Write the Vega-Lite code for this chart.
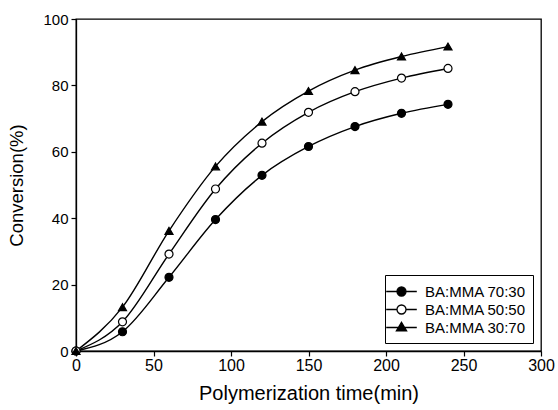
{
  "$schema": "https://vega.github.io/schema/vega-lite/v6.json",
  "width": 465,
  "height": 332,
  "autosize": "none",
  "padding": {"left": 76, "top": 19, "right": 17, "bottom": 59},
  "background": "white",
  "config": {
    "font": "Liberation Sans",
    "view": {"stroke": "black", "strokeWidth": 1.3},
    "axis": {"domainColor": "black", "tickColor": "black", "labelColor": "black", "titleColor": "black", "grid": false, "titleFontWeight": "normal", "tickSize": 5, "labelFlush": false, "domainWidth": 1.3, "tickWidth": 1.2}
  },
  "data": {
    "values": [
      {"t": 0, "c": 0, "s": "BA:MMA 70:30", "label": "BA:MMA 70:30"},
      {"t": 30, "c": 5.8, "s": "BA:MMA 70:30", "label": "BA:MMA 70:30"},
      {"t": 60, "c": 22.2, "s": "BA:MMA 70:30", "label": "BA:MMA 70:30"},
      {"t": 90, "c": 39.6, "s": "BA:MMA 70:30", "label": "BA:MMA 70:30"},
      {"t": 120, "c": 52.9, "s": "BA:MMA 70:30", "label": "BA:MMA 70:30"},
      {"t": 150, "c": 61.6, "s": "BA:MMA 70:30", "label": "BA:MMA 70:30"},
      {"t": 180, "c": 67.6, "s": "BA:MMA 70:30", "label": "BA:MMA 70:30"},
      {"t": 210, "c": 71.6, "s": "BA:MMA 70:30", "label": "BA:MMA 70:30"},
      {"t": 240, "c": 74.3, "s": "BA:MMA 70:30", "label": "BA:MMA 70:30"},
      {"t": 0, "c": 0, "s": "BA:MMA 50:50", "label": "BA:MMA 50:50"},
      {"t": 30, "c": 8.8, "s": "BA:MMA 50:50", "label": "BA:MMA 50:50"},
      {"t": 60, "c": 29.2, "s": "BA:MMA 50:50", "label": "BA:MMA 50:50"},
      {"t": 90, "c": 48.8, "s": "BA:MMA 50:50", "label": "BA:MMA 50:50"},
      {"t": 120, "c": 62.6, "s": "BA:MMA 50:50", "label": "BA:MMA 50:50"},
      {"t": 150, "c": 71.9, "s": "BA:MMA 50:50", "label": "BA:MMA 50:50"},
      {"t": 180, "c": 78.1, "s": "BA:MMA 50:50", "label": "BA:MMA 50:50"},
      {"t": 210, "c": 82.2, "s": "BA:MMA 50:50", "label": "BA:MMA 50:50"},
      {"t": 240, "c": 85.1, "s": "BA:MMA 50:50", "label": "BA:MMA 50:50"},
      {"t": 0, "c": 0, "s": "BA:MMA 30:70", "label": "BA:MMA 30:70"},
      {"t": 30, "c": 13.2, "s": "BA:MMA 30:70", "label": "BA:MMA 30:70"},
      {"t": 60, "c": 36.2, "s": "BA:MMA 30:70", "label": "BA:MMA 30:70"},
      {"t": 90, "c": 55.6, "s": "BA:MMA 30:70", "label": "BA:MMA 30:70"},
      {"t": 120, "c": 69.1, "s": "BA:MMA 30:70", "label": "BA:MMA 30:70"},
      {"t": 150, "c": 78.3, "s": "BA:MMA 30:70", "label": "BA:MMA 30:70"},
      {"t": 180, "c": 84.6, "s": "BA:MMA 30:70", "label": "BA:MMA 30:70"},
      {"t": 210, "c": 88.7, "s": "BA:MMA 30:70", "label": "BA:MMA 30:70"},
      {"t": 240, "c": 91.7, "s": "BA:MMA 30:70", "label": "BA:MMA 30:70"}
    ]
  },
  "encoding": {
    "x": {"field": "t", "type": "quantitative", "title": "Polymerization time(min)", "scale": {"domain": [0, 300], "nice": false}, "axis": {"values": [0, 50, 100, 150, 200, 250, 300], "labelFontSize": 16, "labelPadding": 1, "titleFontSize": 20, "titlePadding": 10}},
    "y": {"field": "c", "type": "quantitative", "title": "Conversion(%)", "scale": {"domain": [0, 100], "nice": false}, "axis": {"values": [0, 20, 40, 60, 80, 100], "labelFontSize": 15, "labelPadding": 3, "titleFontSize": 18.5, "titlePadding": 16}}
  },
  "layer": [
    {
      "mark": {"type": "line", "interpolate": "monotone", "color": "black", "strokeWidth": 1.4},
      "encoding": {"detail": {"field": "s"}}
    },
    {
      "mark": {"type": "point", "filled": false, "stroke": "black", "strokeWidth": 1.2, "size": 64, "opacity": 1},
      "encoding": {
        "shape": {"field": "s", "type": "nominal", "scale": {"domain": ["BA:MMA 70:30", "BA:MMA 50:50", "BA:MMA 30:70"], "range": ["circle", "circle", "triangle-up"]}, "legend": null},
        "fill": {"field": "s", "type": "nominal", "scale": {"domain": ["BA:MMA 70:30", "BA:MMA 50:50", "BA:MMA 30:70"], "range": ["black", "white", "black"]}, "legend": null}
      }
    },
    {
      "mark": {"type": "point", "filled": true, "opacity": 0},
      "encoding": {
        "shape": {"field": "label", "type": "nominal", "scale": {"domain": ["BA:MMA 70:30", "BA:MMA 50:50", "BA:MMA 30:70"], "range": ["M-1.8,0H-0.53M0.53,0H1.8M0.53,0A0.53,0.53,0,1,1,-0.53,0A0.53,0.53,0,1,1,0.53,0Z", "M-1.8,0H-0.53M0.53,0H1.8M0.53,0A0.53,0.53,0,1,1,-0.53,0A0.53,0.53,0,1,1,0.53,0Z", "M-1.8,0H1.8M0,-0.62L0.6,0.38L-0.6,0.38Z"]},
          "legend": {"title": null, "orient": "bottom-right", "offset": 8, "strokeColor": "black", "padding": 7, "labelFontSize": 15, "labelColor": "black", "labelOffset": 14, "symbolSize": 289, "rowPadding": 0, "fillColor": "white", "symbolOpacity": 1,
            "encode": {"symbols": {"update": {"stroke": {"value": "black"}, "strokeWidth": {"value": 1.3}, "opacity": {"value": 1}}}}}},
        "fill": {"field": "label", "type": "nominal", "scale": {"domain": ["BA:MMA 70:30", "BA:MMA 50:50", "BA:MMA 30:70"], "range": ["black", "white", "black"]},
          "legend": {"title": null, "orient": "bottom-right", "offset": 8, "strokeColor": "black", "padding": 7, "labelFontSize": 15, "labelColor": "black", "labelOffset": 14, "symbolSize": 289, "rowPadding": 0, "fillColor": "white", "symbolOpacity": 1,
            "encode": {"symbols": {"update": {"stroke": {"value": "black"}, "strokeWidth": {"value": 1.3}, "opacity": {"value": 1}}}}}}
      }
    }
  ],
  "resolve": {"scale": {"shape": "independent", "fill": "independent"}, "legend": {"shape": "independent", "fill": "independent"}}
}
